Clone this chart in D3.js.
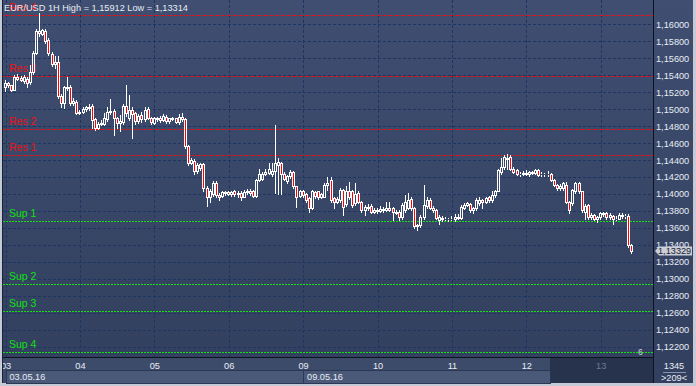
<!DOCTYPE html>
<html>
<head>
<meta charset="utf-8">
<script src="https://cdn.jsdelivr.net/npm/d3@7/dist/d3.min.js"></script>
<style>
html, body { margin: 0; padding: 0; background: #c4cbd6; }
svg { display: block; font-family: "Liberation Sans", Arial, sans-serif; }
</style>
</head>
<body>
<script>
// EUR/USD 1H candles (bar 0 = first visible hour of 03.05)
var opens = [1.1526,1.1531,1.1528,1.1523,1.1538,1.1537,1.1533,1.1536,1.1532,1.1544,1.1566,1.1592,1.1589,1.1592,1.1581,1.1565,1.1553,1.1555,1.1516,1.1507,
  1.1526,1.1526,1.1507,1.1509,1.1496,1.1497,1.1500,1.1501,1.1504,1.1488,1.1478,1.1483,1.1483,1.1488,1.1497,1.1498,1.1490,1.1484,1.1485,1.1504,
  1.1490,1.1499,1.1495,1.1486,1.1493,1.1488,1.1500,1.1489,1.1484,1.1488,1.1489,1.1487,1.1491,1.1486,1.1488,1.1489,1.1485,1.1491,1.1488,1.1456,
  1.1437,1.1439,1.1427,1.1431,1.1435,1.1407,1.1397,1.1400,1.1413,1.1399,1.1398,1.1401,1.1402,1.1400,1.1404,1.1400,1.1401,1.1397,1.1402,1.1403,
  1.1404,1.1398,1.1417,1.1418,1.1424,1.1425,1.1423,1.1427,1.1434,1.1437,1.1424,1.1415,1.1421,1.1426,1.1409,1.1398,1.1404,1.1400,1.1395,1.1383,
  1.1402,1.1403,1.1397,1.1397,1.1411,1.1416,1.1395,1.1391,1.1393,1.1405,1.1388,1.1403,1.1403,1.1389,1.1401,1.1391,1.1381,1.1385,1.1386,1.1379,
  1.1381,1.1380,1.1382,1.1381,1.1383,1.1383,1.1379,1.1379,1.1373,1.1381,1.1384,1.1394,1.1383,1.1362,1.1363,1.1373,1.1386,1.1393,1.1384,1.1381,
  1.1369,1.1372,1.1370,1.1371,1.1370,1.1370,1.1373,1.1372,1.1384,1.1387,1.1388,1.1381,1.1383,1.1389,1.1393,1.1391,1.1397,1.1393,1.1399,1.1404,
  1.1426,1.1432,1.1443,1.1444,1.1430,1.1428,1.1424,1.1423,1.1425,1.1423,1.1426,1.1425,1.1428,1.1423,1.1424,1.1423,1.1424,1.1417,1.1411,1.1407,
  1.1407,1.1411,1.1391,1.1389,1.1403,1.1413,1.1403,1.1379,1.1387,1.1373,1.1375,1.1371,1.1373,1.1377,1.1377,1.1373,1.1374,1.1370,1.1371,1.1375,
  1.1374,1.1374,1.1340];
var highs = [1.1534,1.1532,1.1529,1.1540,1.1541,1.1539,1.1540,1.1538,1.1552,1.1568,1.1595,1.1613,1.1595,1.1594,1.1584,1.1567,1.1563,1.1563,1.1518,1.1527,
  1.1538,1.1528,1.1513,1.1511,1.1499,1.1502,1.1504,1.1506,1.1506,1.1490,1.1485,1.1487,1.1495,1.1502,1.1512,1.1500,1.1491,1.1493,1.1506,1.1529,
  1.1517,1.1502,1.1497,1.1494,1.1497,1.1502,1.1503,1.1491,1.1491,1.1491,1.1492,1.1494,1.1493,1.1490,1.1491,1.1490,1.1494,1.1495,1.1490,1.1458,
  1.1442,1.1441,1.1436,1.1437,1.1436,1.1409,1.1406,1.1415,1.1415,1.1401,1.1403,1.1404,1.1404,1.1404,1.1405,1.1403,1.1403,1.1405,1.1406,1.1406,
  1.1405,1.1418,1.1430,1.1426,1.1430,1.1436,1.1436,1.1481,1.1442,1.1438,1.1426,1.1422,1.1428,1.1427,1.1410,1.1405,1.1405,1.1401,1.1396,1.1405,
  1.1404,1.1404,1.1401,1.1413,1.1420,1.1420,1.1396,1.1396,1.1407,1.1406,1.1409,1.1414,1.1405,1.1413,1.1403,1.1392,1.1387,1.1388,1.1388,1.1383,
  1.1384,1.1386,1.1385,1.1390,1.1391,1.1385,1.1381,1.1381,1.1389,1.1399,1.1401,1.1397,1.1385,1.1365,1.1375,1.1411,1.1397,1.1395,1.1386,1.1382,
  1.1375,1.1374,1.1373,1.1372,1.1374,1.1376,1.1376,1.1387,1.1389,1.1391,1.1389,1.1385,1.1395,1.1397,1.1394,1.1397,1.1398,1.1404,1.1405,1.1430,
  1.1443,1.1446,1.1447,1.1446,1.1432,1.1429,1.1426,1.1427,1.1428,1.1427,1.1427,1.1430,1.1429,1.1426,1.1425,1.1427,1.1425,1.1418,1.1412,1.1412,
  1.1414,1.1414,1.1392,1.1406,1.1414,1.1414,1.1404,1.1388,1.1388,1.1377,1.1376,1.1374,1.1379,1.1379,1.1379,1.1377,1.1375,1.1374,1.1377,1.1377,
  1.1376,1.1376,1.1341];
var lows = [1.1521,1.1526,1.1521,1.1522,1.1534,1.1533,1.1531,1.1526,1.1530,1.1542,1.1565,1.1586,1.1587,1.1578,1.1564,1.1551,1.1548,1.1513,1.1502,1.1501,
  1.1523,1.1505,1.1505,1.1494,1.1494,1.1496,1.1498,1.1499,1.1478,1.1476,1.1477,1.1481,1.1481,1.1486,1.1494,1.1470,1.1478,1.1474,1.1483,1.1492,
  1.1487,1.1466,1.1483,1.1484,1.1485,1.1486,1.1488,1.1482,1.1482,1.1486,1.1485,1.1486,1.1484,1.1484,1.1487,1.1484,1.1483,1.1486,1.1454,1.1434,
  1.1435,1.1424,1.1425,1.1428,1.1403,1.1386,1.1391,1.1398,1.1397,1.1393,1.1396,1.1399,1.1399,1.1398,1.1398,1.1396,1.1393,1.1396,1.1400,1.1399,
  1.1397,1.1396,1.1415,1.1416,1.1422,1.1423,1.1421,1.1401,1.1400,1.1400,1.1416,1.1413,1.1419,1.1407,1.1385,1.1396,1.1397,1.1391,1.1379,1.1382,
  1.1395,1.1394,1.1395,1.1396,1.1405,1.1391,1.1383,1.1389,1.1391,1.1375,1.1386,1.1394,1.1385,1.1387,1.1389,1.1379,1.1375,1.1381,1.1377,1.1378,
  1.1378,1.1379,1.1379,1.1380,1.1380,1.1369,1.1376,1.1369,1.1371,1.1379,1.1382,1.1381,1.1360,1.1358,1.1361,1.1371,1.1383,1.1382,1.1379,1.1370,
  1.1365,1.1368,1.1369,1.1368,1.1369,1.1368,1.1370,1.1370,1.1382,1.1386,1.1379,1.1378,1.1381,1.1387,1.1384,1.1389,1.1391,1.1391,1.1397,1.1403,
  1.1424,1.1430,1.1429,1.1428,1.1425,1.1422,1.1421,1.1422,1.1422,1.1421,1.1423,1.1424,1.1421,1.1421,1.1421,1.1421,1.1415,1.1409,1.1405,1.1405,
  1.1405,1.1389,1.1377,1.1387,1.1401,1.1401,1.1379,1.1371,1.1371,1.1371,1.1369,1.1367,1.1371,1.1374,1.1371,1.1371,1.1365,1.1369,1.1370,1.1372,
  1.1372,1.1338,1.1331];
var closes = [1.1531,1.1528,1.1523,1.1538,1.1536,1.1534,1.1538,1.1531,1.1544,1.1566,1.1592,1.1590,1.1593,1.1580,1.1566,1.1553,1.1556,1.1515,1.1507,1.1526,
  1.1525,1.1507,1.1510,1.1496,1.1497,1.1500,1.1502,1.1503,1.1487,1.1478,1.1483,1.1484,1.1489,1.1497,1.1498,1.1490,1.1484,1.1486,1.1504,1.1495,
  1.1499,1.1494,1.1486,1.1492,1.1488,1.1499,1.1490,1.1485,1.1489,1.1489,1.1487,1.1492,1.1486,1.1489,1.1489,1.1485,1.1491,1.1488,1.1456,1.1437,
  1.1440,1.1427,1.1434,1.1435,1.1407,1.1397,1.1404,1.1413,1.1399,1.1397,1.1402,1.1402,1.1400,1.1402,1.1400,1.1401,1.1396,1.1402,1.1403,1.1401,
  1.1398,1.1417,1.1424,1.1424,1.1426,1.1429,1.1427,1.1436,1.1438,1.1423,1.1418,1.1421,1.1426,1.1409,1.1397,1.1404,1.1399,1.1393,1.1383,1.1403,
  1.1398,1.1396,1.1400,1.1411,1.1413,1.1393,1.1391,1.1394,1.1405,1.1385,1.1403,1.1396,1.1387,1.1400,1.1391,1.1381,1.1385,1.1383,1.1379,1.1381,
  1.1380,1.1382,1.1381,1.1383,1.1381,1.1379,1.1378,1.1373,1.1387,1.1391,1.1393,1.1383,1.1362,1.1363,1.1373,1.1387,1.1393,1.1384,1.1381,1.1372,
  1.1373,1.1370,1.1371,1.1370,1.1371,1.1373,1.1372,1.1385,1.1387,1.1389,1.1381,1.1383,1.1393,1.1393,1.1390,1.1395,1.1393,1.1399,1.1404,1.1428,
  1.1432,1.1444,1.1441,1.1430,1.1426,1.1424,1.1423,1.1425,1.1424,1.1426,1.1425,1.1428,1.1422,1.1424,1.1423,1.1424,1.1417,1.1411,1.1407,1.1410,
  1.1413,1.1391,1.1381,1.1405,1.1413,1.1403,1.1381,1.1386,1.1373,1.1375,1.1371,1.1373,1.1377,1.1376,1.1373,1.1375,1.1370,1.1371,1.1375,1.1374,
  1.1374,1.1340,1.13329];

// axis labels
var dayLabels = ["03", "04", "05", "06", "09", "10", "11", "12", "13"];
var dayStarts = [0, 24, 48, 72, 96, 120, 144, 168, 192];
var weekLabels = ["03.05.16", "09.05.16"];
var weekStarts = [0, 96];
var priceTicks = [1.160, 1.158, 1.156, 1.154, 1.152, 1.150, 1.148, 1.146, 1.144, 1.142, 1.140,
                  1.138, 1.136, 1.134, 1.132, 1.130, 1.128, 1.126, 1.124, 1.122];

// support / resistance levels
var levelNames = ["Res 4", "Res 3", "Res 2", "Res 1", "Sup 1", "Sup 2", "Sup 3", "Sup 4"];
var levelValues = [1.1611, 1.1539, 1.1477, 1.1446, 1.1368, 1.1294, 1.1262, 1.1214];

var title = "EUR/USD 1H High = 1,15912 Low = 1,13314";

//Set up chart
var svgWidth = 696, svgHeight = 386;
var plot = {left: 3, top: 0, right: 653, bottom: 357};

var svg = d3.select("body").append("svg").attr("width", svgWidth).attr("height", svgHeight);

var defs = svg.append("defs");
var grad = defs.append("linearGradient").attr("id", "bg").attr("x1", 0).attr("y1", 0).attr("x2", 0).attr("y2", 1);
grad.append("stop").attr("offset", "0%").attr("stop-color", "#3f4e71");
grad.append("stop").attr("offset", "100%").attr("stop-color", "#323f5e");
defs.append("clipPath").attr("id", "clip").append("rect")
    .attr("x", plot.left).attr("y", plot.top)
    .attr("width", plot.right - plot.left).attr("height", plot.bottom - plot.top);

// frame + panels
svg.append("rect").attr("width", svgWidth).attr("height", svgHeight).attr("fill", "#c4cbd6");
svg.append("rect").attr("x", plot.left).attr("y", 0).attr("width", 691 - plot.left).attr("height", 383)
    .attr("fill", "url(#bg)");

var xScale = d3.scaleLinear().domain([0, 202]).range([5.5, 631.7]);
var yScale = d3.scaleLinear().domain([1.122, 1.160]).range([346.7, 24.3]);
var fmt = function(v) { return d3.format(".5f")(v).replace(".", ","); };

var chart = svg.append("g").attr("clip-path", "url(#clip)");

// grid
chart.selectAll(".hgrid").data(priceTicks).enter().append("line")
    .attr("x1", plot.left).attr("x2", plot.right)
    .attr("y1", function(d) { return Math.round(yScale(d)) + 0.5; })
    .attr("y2", function(d) { return Math.round(yScale(d)) + 0.5; })
    .attr("stroke", "#1d3562").attr("stroke-dasharray", "3,2");
chart.selectAll(".vgrid").data(dayStarts).enter().append("line")
    .attr("x1", function(d) { return Math.round(xScale(d)) + 0.5; })
    .attr("x2", function(d) { return Math.round(xScale(d)) + 0.5; })
    .attr("y1", plot.top).attr("y2", plot.bottom)
    .attr("stroke", "#1d3562").attr("stroke-dasharray", "3,2");

// levels
var levelColor = function(i) { return levelNames[i].indexOf("Res") === 0 ? "#ee1010" : "#10e010"; };
chart.selectAll(".level").data(levelValues).enter().append("line")
    .attr("x1", plot.left).attr("x2", plot.right)
    .attr("y1", function(d) { return Math.round(yScale(d)) + 0.5; })
    .attr("y2", function(d) { return Math.round(yScale(d)) + 0.5; })
    .attr("stroke", function(d, i) { return levelColor(i); })
    .attr("stroke-dasharray", "2,1");
chart.selectAll(".levelText").data(levelValues).enter().append("text")
    .attr("x", 9).attr("y", function(d) { return yScale(d) - 4; })
    .attr("font-size", "10.5px").attr("fill", function(d, i) { return levelColor(i); })
    .text(function(d, i) { return levelNames[i]; });

// candles
var bars = d3.range(opens.length).map(function(i) {
  return {i: i, o: opens[i], h: highs[i], l: lows[i], c: closes[i]};
});
var px = function(d) { return Math.floor(xScale(d.i)); };
var bodyTop = function(d) { return Math.round(yScale(Math.max(d.o, d.c))); };
var bodyBot = function(d) { return Math.round(yScale(Math.min(d.o, d.c))); };

var candle = chart.selectAll(".candle").data(bars).enter().append("g");
candle.append("line")
    .attr("x1", function(d) { return px(d) + 0.5; }).attr("x2", function(d) { return px(d) + 0.5; })
    .attr("y1", function(d) { return Math.round(yScale(d.h)); })
    .attr("y2", function(d) { return bodyTop(d); })
    .attr("stroke", "#ffffff");
candle.append("line")
    .attr("x1", function(d) { return px(d) + 0.5; }).attr("x2", function(d) { return px(d) + 0.5; })
    .attr("y1", function(d) { return bodyBot(d) + 1; })
    .attr("y2", function(d) { return Math.round(yScale(d.l)) + 1; })
    .attr("stroke", "#ffffff");
candle.append("rect")
    .attr("x", function(d) { return px(d) - 0.5; })
    .attr("y", function(d) { return bodyTop(d) + 0.5; })
    .attr("width", 2)
    .attr("height", function(d) { return bodyBot(d) - bodyTop(d); })
    .attr("fill", function(d) { return d.c < d.o ? "#ff0000" : "none"; })
    .attr("stroke", "#ffffff");

// title
svg.append("text").attr("x", 4).attr("y", 10.5)
    .attr("font-size", "9.2px").attr("fill", "#e8edf4").text(title);

// right price axis
svg.append("rect").attr("x", plot.right).attr("y", 0).attr("width", 40).attr("height", 383).attr("fill", "url(#bg)");
var yAxis = d3.axisRight(yScale).tickValues(priceTicks).tickSize(0).tickPadding(3).tickFormat(fmt);
var yAxisG = svg.append("g").attr("transform", "translate(" + plot.right + ",0)").call(yAxis);
yAxisG.select(".domain").remove();
yAxisG.selectAll("text").attr("fill", "#e8edf4").attr("font-size", "9.2px")
    .attr("font-family", "\"Liberation Sans\", Arial, sans-serif");

// bottom time axis
svg.append("rect").attr("x", plot.left).attr("y", plot.bottom).attr("width", plot.right - plot.left)
    .attr("height", 26).attr("fill", "#3d4b6b");
svg.append("rect").attr("x", 550).attr("y", plot.bottom + 1).attr("width", plot.right - 550)
    .attr("height", 25).attr("fill", "#27324c");
svg.selectAll(".week").data(weekStarts).enter().append("rect")
    .attr("x", function(d) { return Math.round(xScale(d)) + 0.5; })
    .attr("y", 370.5)
    .attr("width", function(d, i) {
      var end = i + 1 < weekStarts.length ? xScale(weekStarts[i + 1]) : 550;
      return Math.round(end) - Math.round(xScale(d));
    })
    .attr("height", 13).attr("fill", "#4b5979").attr("stroke", "#2c3853");
svg.selectAll(".weekText").data(weekStarts).enter().append("text")
    .attr("x", function(d) { return xScale(d) + 4; }).attr("y", 380)
    .attr("font-size", "9.2px").attr("fill", "#e8edf4")
    .text(function(d, i) { return weekLabels[i]; });

var xAxis = d3.axisBottom(xScale).tickValues(dayStarts).tickSize(0).tickPadding(5)
    .tickFormat(function(d, i) { return dayLabels[i]; });
var xAxisG = svg.append("g").attr("transform", "translate(0," + plot.bottom + ")").call(xAxis);
xAxisG.select(".domain").remove();
xAxisG.selectAll("text").attr("font-size", "9.2px")
    .attr("font-family", "\"Liberation Sans\", Arial, sans-serif")
    .attr("fill", function(d, i) { return i === dayStarts.length - 1 ? "#6d7a94" : "#e8edf4"; });

// separators
svg.append("line").attr("x1", plot.left).attr("x2", plot.right).attr("y1", plot.bottom + 0.5).attr("y2", plot.bottom + 0.5)
    .attr("stroke", "#0c1220");
svg.append("line").attr("x1", plot.right + 0.5).attr("x2", plot.right + 0.5).attr("y1", 0).attr("y2", 383)
    .attr("stroke", "#0c1220");
svg.append("line").attr("x1", plot.left - 0.5).attr("x2", plot.left - 0.5).attr("y1", 0).attr("y2", 383)
    .attr("stroke", "#1a2236");

// current price marker
var last = closes[closes.length - 1];
var ly = yScale(last);
svg.append("path")
    .attr("d", "M" + (plot.right + 2) + "," + ly + "L" + (plot.right + 6) + "," + (ly - 4.5) + "H692V" + (ly + 4.5) + "H" + (plot.right + 6) + "Z")
    .attr("fill", "#c9ced8");
svg.append("text").attr("x", plot.right + 5).attr("y", ly + 3.3)
    .attr("font-size", "9.2px").attr("fill", "#1c2130").text(fmt(last));

svg.append("text").attr("x", 638).attr("y", 355).attr("font-size", "8.5px").attr("fill", "#c8d0dc").text("6");

// bar info box
svg.append("text").attr("x", 674).attr("y", 369).attr("text-anchor", "middle")
    .attr("font-size", "9.2px").attr("fill", "#e8edf4").text("1345");
svg.append("line").attr("x1", 663).attr("x2", 686).attr("y1", 372.5).attr("y2", 372.5).attr("stroke", "#8a96ad");
svg.append("text").attr("x", 674).attr("y", 381).attr("text-anchor", "middle")
    .attr("font-size", "9.2px").attr("fill", "#e8edf4").text(">209<");
</script>
</body>
</html>
